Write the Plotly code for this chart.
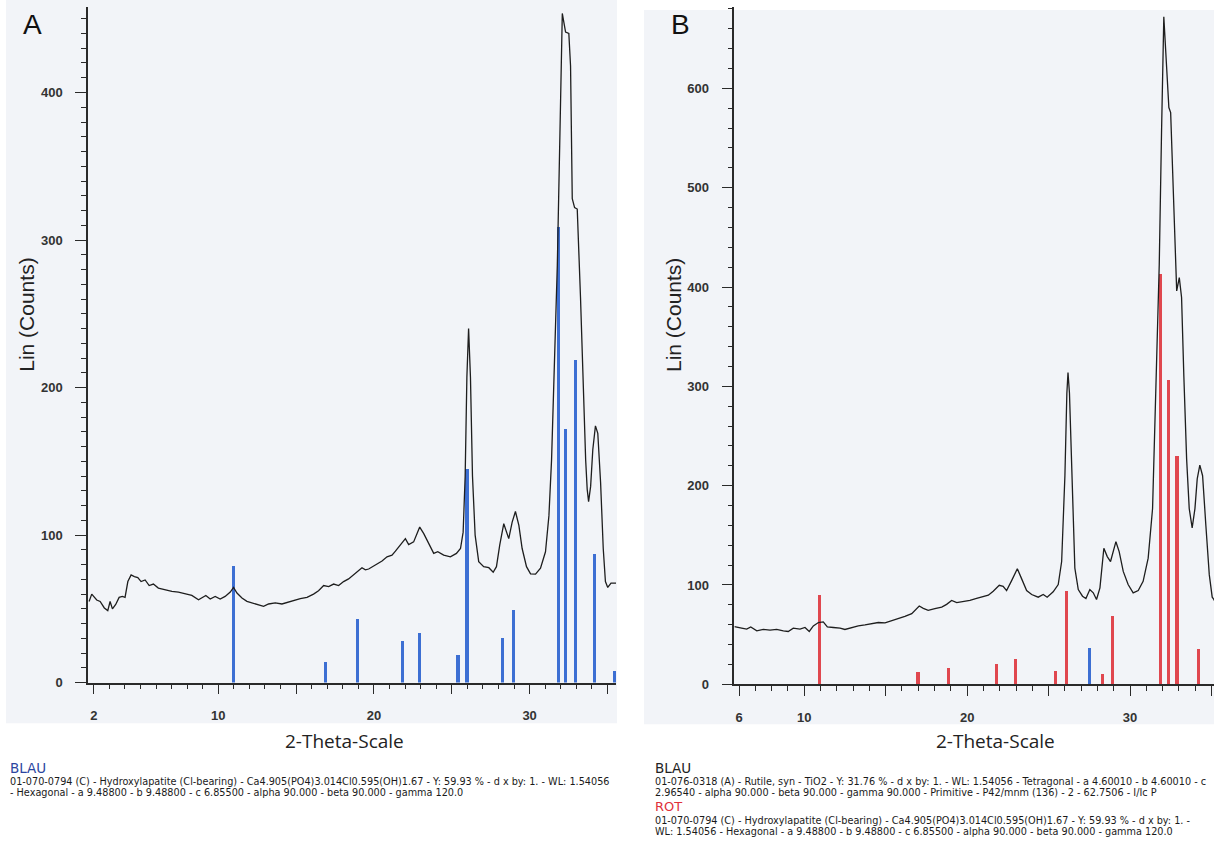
import plotly.graph_objects as go

W, H = 1214, 863

# ---------------- Panel A data ----------------
two_theta_a = [1.70, 1.87, 2.19, 2.41, 2.68, 2.90, 3.05, 3.20, 3.41, 3.63, 3.84, 4.01, 4.19, 4.40, 4.61,
               4.83, 5.04, 5.30, 5.56, 5.83, 6.15, 6.59, 7.02, 7.44, 7.87, 8.30, 8.73, 8.95, 9.20, 9.48,
               9.80, 10.12, 10.44, 10.77, 10.98, 11.20, 11.52, 11.84, 12.16, 12.48, 12.91, 13.23, 13.66,
               14.09, 14.51, 14.84, 15.27, 15.70, 16.12, 16.44, 16.77, 17.09, 17.41, 17.73, 18.05, 18.37,
               18.70, 18.98, 19.23, 19.45, 19.66, 20.09, 20.52, 20.84, 21.16, 21.38, 21.59, 21.81, 22.02,
               22.23, 22.55, 22.77, 22.94, 23.20, 23.52, 23.84, 24.10, 24.48, 24.91, 25.30, 25.56, 25.73,
               25.86, 25.97, 26.08, 26.20, 26.33, 26.50, 26.73, 27.05, 27.38, 27.66, 27.87, 28.08, 28.34,
               28.51, 28.66, 28.88, 29.09, 29.31, 29.52, 29.80, 30.06, 30.38, 30.70, 31.02, 31.24, 31.41,
               31.55, 31.78, 31.95, 32.10, 32.31, 32.52, 32.63, 32.74, 32.89, 33.06, 33.27, 33.42, 33.60,
               33.70, 33.79, 33.92, 34.06, 34.23, 34.38, 34.56, 34.73, 34.87, 35.02, 35.23, 35.55]
counts_a = [55, 60, 56, 55, 50.6, 48.8, 55, 50, 53, 57.8, 58.4, 57.8, 68.5, 73, 71.9,
            71.2, 68.5, 69.6, 65.8, 66.8, 64.1, 62.9, 61.8, 61.4, 60.0, 59.1, 56.2, 57.8, 59.1, 56.7,
            58.4, 56.7, 58.4, 61.4, 64.5, 60.7, 57.4, 55.1, 54.0, 53.3, 51.7, 53.3, 54.0,
            53.3, 54.7, 55.5, 56.9, 57.8, 60.0, 62.3, 65.8, 65.1, 66.8, 65.8, 68.5, 70.3,
            73.0, 75.7, 77.9, 76.4, 77.0, 79.7, 82.4, 85.3, 86.4, 89.1, 92.0, 95.4, 97.6,
            93.6, 95.4, 101, 105.4, 101, 94.3, 87.6, 88.7, 86.4, 85.3, 87.6, 90.9, 102,
            140, 207, 240, 207, 140, 100, 82, 78.6, 77.9, 74.8, 78.6, 93.2, 107.7,
            102, 97.6, 108.8, 116, 106.6, 90.9, 78.6, 73.7, 73.5, 77.5, 88.7, 113, 151,
            207, 283, 373, 453.6, 441, 440, 418, 328, 322, 321, 261, 207, 151,
            131, 122.7, 133, 158, 174, 169, 135.7, 90.9, 68.5, 64.5, 67.4, 67.4]

# Reference lines A (BLAU - Hydroxylapatite)
sticks_a_pos = [10.95, 16.9, 18.95, 21.85, 22.95, 25.4, 25.98, 28.25, 28.95, 31.85, 32.33, 32.96, 34.15, 35.45]
sticks_a_int = [79, 14, 43, 28, 34, 19, 145, 30, 49, 309, 172, 219, 87, 8]

# ---------------- Panel B data ----------------
two_theta_b = [5.72, 5.82, 6.16, 6.47, 6.72, 7.09, 7.49, 7.90, 8.31, 8.72, 9.02, 9.33, 9.74, 10.05, 10.31,
               10.56, 10.87, 11.17, 11.42, 11.79, 12.20, 12.50, 12.91, 13.32, 13.73, 14.14, 14.55, 14.96,
               15.37, 15.77, 16.18, 16.60, 16.86, 17.06, 17.31, 17.61, 18.02, 18.44, 18.74, 19.05, 19.36,
               19.76, 20.17, 20.58, 20.99, 21.30, 21.60, 21.97, 22.21, 22.42, 22.73, 23.08, 23.34, 23.65,
               23.96, 24.36, 24.67, 24.91, 25.28, 25.59, 25.80, 26.00, 26.12, 26.19, 26.28, 26.47, 26.61,
               26.82, 27.08, 27.29, 27.53, 27.74, 27.94, 28.15, 28.39, 28.60, 28.80, 29.13, 29.33, 29.58,
               29.88, 30.19, 30.50, 30.80, 31.11, 31.38, 31.62, 31.79, 31.93, 32.07, 32.24, 32.38, 32.49,
               32.69, 32.86, 33.02, 33.16, 33.30, 33.47, 33.63, 33.81, 33.98, 34.12, 34.28, 34.45, 34.65,
               34.86, 35.04, 35.14, 35.30]
counts_b = [58, 57.8, 56.5, 55.5, 57.8, 53.8, 55.2, 54.5, 55.2, 53.8, 53.2, 56.5, 55.5, 57.2, 53.2,
            58.8, 62.2, 62.8, 57.8, 57.2, 56.5, 55.2, 57.2, 58.8, 59.8, 61.2, 62.2, 61.8,
            63.8, 66.5, 68.5, 71.2, 75.5, 78.8, 76.5, 74.5, 76.2, 77.8, 80.5, 84.4, 82.2,
            83.2, 84.4, 86.4, 88.7, 89.7, 93.7, 99.7, 98.7, 94.4, 104.4, 116.3, 106.4, 94.4,
            90.4, 87.7, 90.4, 87.7, 93.1, 100.4, 123.6, 210, 293, 314, 293, 193, 117,
            95.4, 88.7, 86.4, 95.4, 92.1, 85.4, 97.1, 137, 128.6, 123.6, 143.6, 133.6, 113.7,
            100.4, 92.1, 94.4, 103.7, 127, 177, 310, 422.7, 555.7, 672, 622, 580.7, 575.6,
            489, 396, 409.5, 389.5, 310, 226.7, 176.9, 157.5, 176.9, 206.8, 220.7, 210, 160.2,
            110.4, 87.7, 85.4, 80]

# ROT - Hydroxylapatite
sticks_b_red_pos = [10.97, 17.0, 18.88, 21.8, 22.97, 25.42, 26.12, 28.34, 28.96, 31.86, 32.39, 32.9, 34.21]
sticks_b_red_int = [90, 12, 16, 21, 26, 13, 94, 10, 69, 413, 306, 230, 36]
# BLAU - Rutile
sticks_b_blue_pos = [27.53]
sticks_b_blue_int = [37]

# ---------------- styling ----------------
CURVE = "#1e1e1e"
BLUE = "#3d6fd3"
RED = "#e0474f"
AXIS = "#2a2a2a"
BG = "#f2f4f8"

fig = go.Figure()

fig.add_trace(go.Bar(x=sticks_a_pos, y=sticks_a_int, width=0.2, marker=dict(color=BLUE, line=dict(width=0)),
                     xaxis="x", yaxis="y", showlegend=False))
fig.add_trace(go.Scatter(x=two_theta_a, y=counts_a, mode="lines", line=dict(color=CURVE, width=1.3),
                         xaxis="x", yaxis="y", showlegend=False))

fig.add_trace(go.Bar(x=sticks_b_red_pos, y=sticks_b_red_int, width=0.19, marker=dict(color=RED, line=dict(width=0)),
                     xaxis="x2", yaxis="y2", showlegend=False))
fig.add_trace(go.Bar(x=sticks_b_blue_pos, y=sticks_b_blue_int, width=0.19, marker=dict(color=BLUE, line=dict(width=0)),
                     xaxis="x2", yaxis="y2", showlegend=False))
fig.add_trace(go.Scatter(x=two_theta_b, y=counts_b, mode="lines", line=dict(color=CURVE, width=1.3),
                         xaxis="x2", yaxis="y2", showlegend=False))


def px(x):
    return x / W


def py(y):
    return 1 - y / H


tickfont = dict(family="Liberation Sans, Arial, sans-serif", size=13, color="#333333", weight="bold")

common_x = dict(showline=True, linecolor=AXIS, linewidth=1.5, ticks="outside", ticklen=10, tickwidth=1,
                tickcolor=AXIS, showgrid=False, zeroline=False, tickfont=tickfont, ticklabelstandoff=10,
                minor=dict(ticks="outside", ticklen=5, tickwidth=1, tickcolor=AXIS, dtick=1, tick0=0, showgrid=False))
common_y = dict(showline=True, linecolor=AXIS, linewidth=1.5, ticks="outside", ticklen=11, tickwidth=1,
                tickcolor=AXIS, showgrid=False, zeroline=False, tickfont=tickfont, ticklabelstandoff=10)

fig.update_layout(
    width=W, height=H,
    margin=dict(l=0, r=0, t=0, b=0),
    paper_bgcolor="white",
    plot_bgcolor="rgba(0,0,0,0)",
    bargap=0,
    barmode="overlay",
    xaxis=dict(domain=[px(88), px(616)], range=[1.63, 35.55], anchor="y",
               tickvals=[2, 10, 15, 20, 25, 30, 35], ticktext=["2", "10", "", "20", "", "30", ""], **common_x),
    yaxis=dict(domain=[py(689), py(7)], range=[0, 458], anchor="x",
               tickvals=[0, 100, 200, 300, 400],
               minor=dict(ticks="outside", ticklen=5, tickwidth=1, tickcolor=AXIS, dtick=10, tick0=0, showgrid=False),
               **common_y),
    xaxis2=dict(domain=[px(734.3), 1.0], range=[5.71, 35.15], anchor="y2",
                tickvals=[6, 10, 15, 20, 25, 30, 35], ticktext=["6", "10", "", "20", "", "30", ""], **common_x),
    yaxis2=dict(domain=[py(690.7), py(7)], range=[0, 682], anchor="x2",
                tickvals=[0, 100, 200, 300, 400, 500, 600],
                minor=dict(ticks="outside", ticklen=5, tickwidth=1, tickcolor=AXIS, dtick=20, tick0=0, showgrid=False),
                **common_y),
)

# scanned background panels
fig.add_shape(type="rect", xref="paper", yref="paper", x0=px(6), x1=px(617), y0=py(730), y1=py(0),
              fillcolor=BG, line=dict(width=0), layer="below")
fig.add_shape(type="rect", xref="paper", yref="paper", x0=px(644), x1=1.0, y0=py(731), y1=py(10),
              fillcolor=BG, line=dict(width=0), layer="below")

ann = []
# Panel letters
ann.append(dict(text="A", x=px(32), y=py(25), font=dict(family="Liberation Sans, Arial", size=28, color="#111")))
ann.append(dict(text="B", x=px(680.5), y=py(25), font=dict(family="Liberation Sans, Arial", size=28, color="#111")))
# y titles
for xc in (25.7, 673):
    ann.append(dict(text="Lin (Counts)", x=px(xc), y=py(318), textangle=-90,
                    font=dict(family="Liberation Sans, Arial", size=21, color="#222")))
# x titles
for xc in (344, 995):
    ann.append(dict(text="2-Theta-Scale", x=px(xc), y=py(748),
                    font=dict(family="Open Sans", size=19, color="#222")))

lines_a = [
    "01-070-0794 (C) - Hydroxylapatite (Cl-bearing) - Ca4.905(PO4)3.014Cl0.595(OH)1.67 - Y: 59.93 % - d x by: 1. - WL: 1.54056",
    "- Hexagonal - a 9.48800 - b 9.48800 - c 6.85500 - alpha 90.000 - beta 90.000 - gamma 120.0",
]
lines_b1 = [
    "01-076-0318 (A) - Rutile, syn - TiO2 - Y: 31.76 % - d x by: 1. - WL: 1.54056 - Tetragonal - a 4.60010 - b 4.60010 - c",
    "2.96540 - alpha 90.000 - beta 90.000 - gamma 90.000 - Primitive - P42/mnm (136) - 2 - 62.7506 - I/Ic P",
]
lines_b2 = [
    "01-070-0794 (C) - Hydroxylapatite (Cl-bearing) - Ca4.905(PO4)3.014Cl0.595(OH)1.67 - Y: 59.93 % - d x by: 1. -",
    "WL: 1.54056 - Hexagonal - a 9.48800 - b 9.48800 - c 6.85500 - alpha 90.000 - beta 90.000 - gamma 120.0",
]

BODY = dict(family="DejaVu Sans", size=9.7, color="#1a1a1a")
HEADF = "DejaVu Sans"
LS = 11.4

# block A
ann.append(dict(text="BLAU", x=px(8.7), y=py(775), xanchor="left",
                font=dict(family=HEADF, size=13.5, color="#2b45a0")))
for i, t in enumerate(lines_a):
    ann.append(dict(text=t, x=px(8.7), y=py(789 + LS * i), xanchor="left", font=BODY))

# block B
ann.append(dict(text="BLAU", x=px(653.5), y=py(775), xanchor="left",
                font=dict(family=HEADF, size=13.5, color="#222222")))
for i, t in enumerate(lines_b1):
    ann.append(dict(text=t, x=px(653.5), y=py(789 + LS * i), xanchor="left", font=BODY))
ann.append(dict(text="ROT", x=px(653.5), y=py(814), xanchor="left",
                font=dict(family=HEADF, size=13, color="#e0303a")))
for i, t in enumerate(lines_b2):
    ann.append(dict(text=t, x=px(653.5), y=py(828 + LS * i), xanchor="left", font=BODY))

for a in ann:
    a.setdefault("xref", "paper")
    a.setdefault("yref", "paper")
    a.setdefault("showarrow", False)
    a.setdefault("xanchor", "center")
    a.setdefault("yanchor", "middle")
    a.setdefault("borderpad", 0)
fig.update_layout(annotations=ann)

fig.write_html("out.html", config={"displayModeBar": False},
               post_script="document.body.style.margin='0';document.body.style.overflow='hidden';")
